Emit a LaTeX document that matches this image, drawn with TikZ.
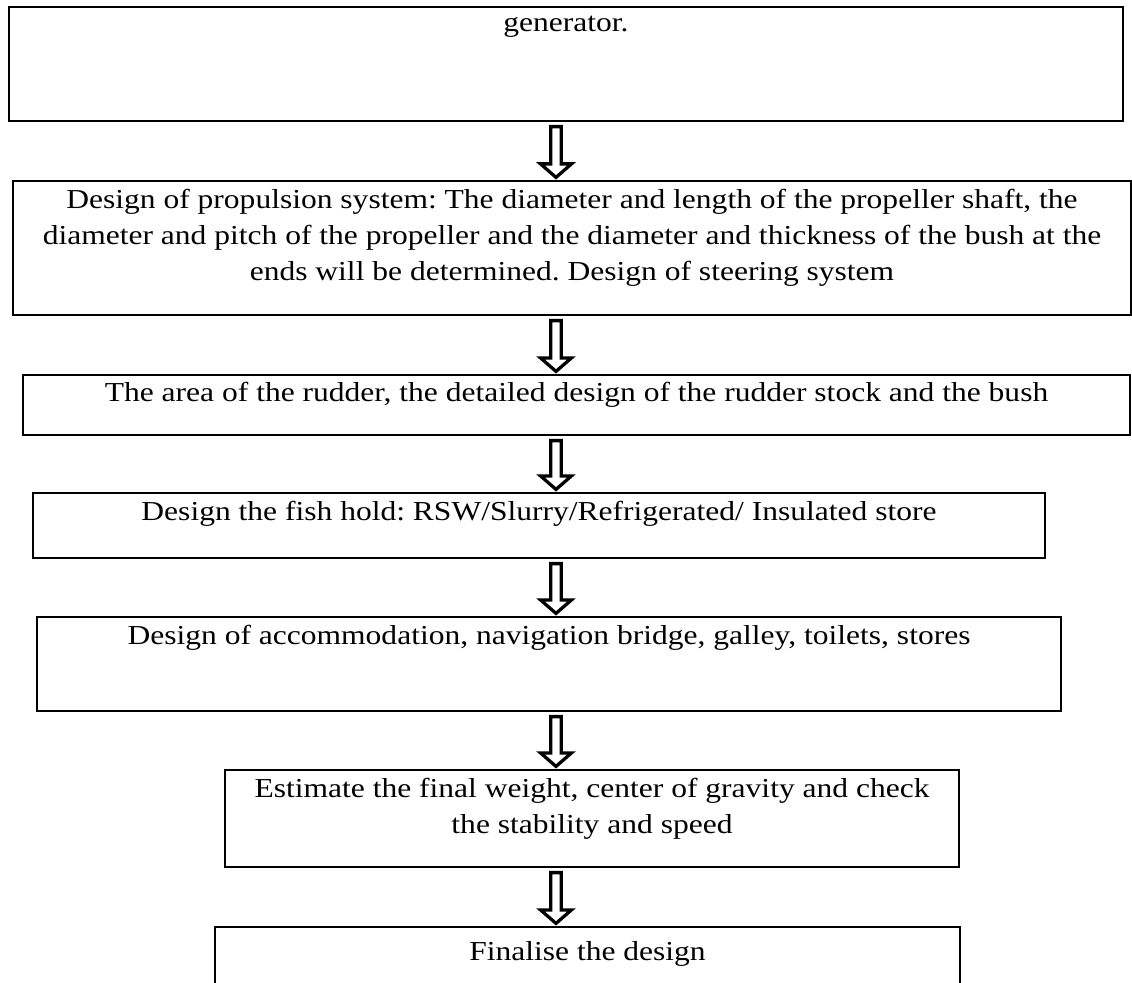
\documentclass[tikz,border=0pt]{standalone}
\usepackage{fontspec}
\setmainfont{Liberation Serif}[FakeStretch=1.15]
\usetikzlibrary{calc,fit}
\tikzset{
  stepbox/.style={rectangle, draw=black, line width=1.9pt, inner sep=0pt},
  steptext/.style={anchor=north, inner sep=0pt, align=center,
    font=\fontsize{23.4}{30.7}\selectfont},
  hollow/.style={draw=black, line width=2.8pt, fill=white, line join=miter}
}
% hollow block arrow from the bottom of #1 to the top of #2, on the axis
\newcommand{\hollowarrow}[2]{%
  \draw[hollow] ($(#1.south -| axis)+(-5.3,4.5)$) -- ($(#1.south -| axis)+(5.3,4.5)$)
    -- ($(#2.north -| axis)+(5.3,-16)$) -- ($(#2.north -| axis)+(15.5,-16)$)
    -- ($(#2.north -| axis)+(0,-2.5)$) -- ($(#2.north -| axis)+(-15.5,-16)$)
    -- ($(#2.north -| axis)+(-5.3,-16)$) -- cycle;}

\begin{document}
\frenchspacing
\begin{tikzpicture}[x=0.03cm, y=-0.03cm]
\useasboundingbox (0,0) rectangle (1132,982);
\clip (0,0) rectangle (1132,982);
\coordinate (axis) at (556,0);

% boxes
\node[stepbox, fit={(9,7) (1123,121)}] (gen) {};
\node[stepbox, fit={(13,181) (1131,315)}] (propul) {};
\node[stepbox, fit={(23,375) (1130,435)}] (rudder) {};
\node[stepbox, fit={(33,493) (1045,558)}] (fishhold) {};
\node[stepbox, fit={(37,617) (1061,711)}] (accom) {};
\node[stepbox, fit={(225,770) (959,867)}] (estimate) {};
\node[stepbox, fit={(215,927) (960,1010)}] (finalise) {};

% texts
\node[steptext] (gentext) at ($(gen.north)+(0,10)$) {generator.};
\node[steptext] (propultext) at ($(propul.north)+(0,9)$)
  {Design of propulsion system: The diameter and length of the propeller shaft, the\\
   diameter and pitch of the propeller and the diameter and thickness of the bush at the\\
   ends will be determined. Design of steering system};
\node[steptext] (ruddertext) at ($(rudder.north)+(0,8)$)
  {The area of the rudder, the detailed design of the rudder stock and the bush};
\node[steptext] (fishtext) at ($(fishhold.north)+(0,9)$)
  {Design the fish hold: RSW/Slurry/Refrigerated/ Insulated store};
\node[steptext] (accomtext) at ($(accom.north)+(0,9)$)
  {Design of accommodation, navigation bridge, galley, toilets, stores};
\node[steptext] (estimatetext) at ($(estimate.north)+(0,9)$)
  {Estimate the final weight, center of gravity and check\\ the stability and speed};
\node[steptext] (finalisetext) at ($(finalise.north)+(0,15)$) {Finalise the design};

% arrows
\hollowarrow{gen}{propul}
\hollowarrow{propul}{rudder}
\hollowarrow{rudder}{fishhold}
\hollowarrow{fishhold}{accom}
\hollowarrow{accom}{estimate}
\hollowarrow{estimate}{finalise}
\end{tikzpicture}
\end{document}
